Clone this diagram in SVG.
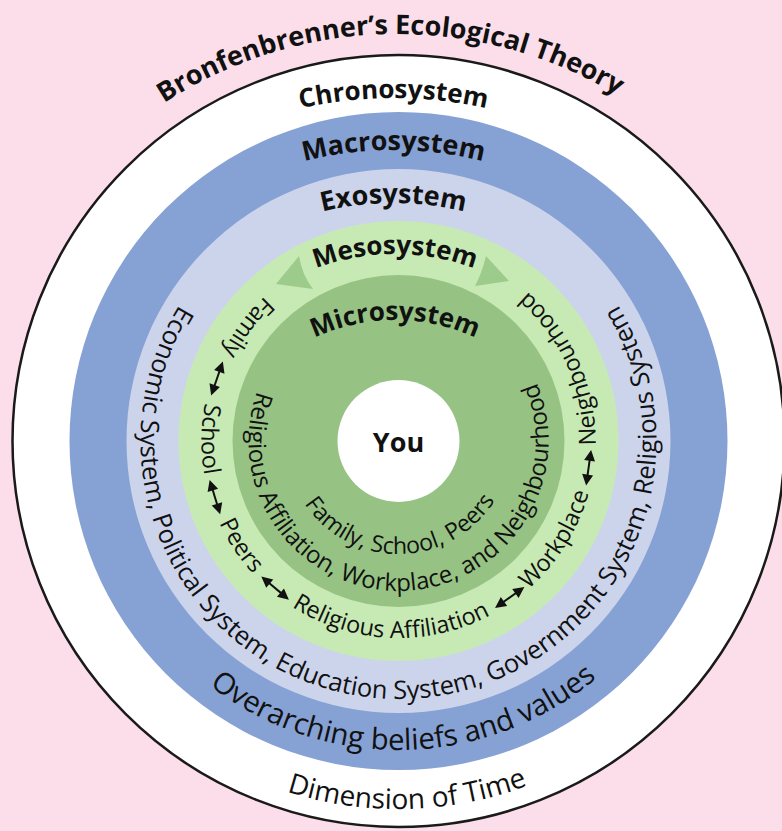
<svg xmlns="http://www.w3.org/2000/svg" width="782" height="831" viewBox="0 0 782 831">
<style>
.t{font-family:"Open Sans","Noto Sans",sans-serif;fill:#111;}
.b{font-weight:700;}
.r{font-weight:400;}
</style>
<defs>
<path id="pTitle" d="M -30,461 A 427 427 0 0 1 824,461"/>
<path id="pChrono" d="M -26.5,518 A 420 420 0 0 1 813.5,518"/>
<path id="pMacro" d="M 33.5,510 A 360 360 0 0 1 753.5,510"/>
<path id="pExo" d="M 93.5,503 A 300 300 0 0 1 693.5,503"/>
<path id="pMeso" d="M 171,478 A 224 224 0 0 1 619,478"/>
<path id="pMicro" d="M 205,510 A 190 190 0 0 1 585,510"/>
<path id="pTime" d="M 30.5,441 A 368 368 0 0 0 766.5,441"/>
<path id="pValues" d="M 89.5,441 A 309 309 0 0 0 707.5,441"/>
<path id="pExoRing" d="M 398.5,183 A 258 258 0 1 0 398.5,699 A 258 258 0 1 0 398.5,183"/>
<path id="pMesoRing" d="M 398.5,244 A 197 197 0 1 0 398.5,638 A 197 197 0 1 0 398.5,244"/>
<path id="pMicroRing" d="M 398.5,291 A 150 150 0 1 0 398.5,591 A 150 150 0 1 0 398.5,291"/>
<path id="pInner" d="M 398.5,328 A 113 113 0 1 0 398.5,554 A 113 113 0 1 0 398.5,328"/>
<g id="dbl"><line x1="-9" y1="0" x2="9" y2="0" stroke="#111" stroke-width="2"/><path d="M18,0 L7,-5.5 L7,5.5 Z M-18,0 L-7,-5.5 L-7,5.5 Z" fill="#111"/></g>
</defs>
<rect width="782" height="831" fill="#FBDEEA"/>
<text class="t b" font-size="27"><textPath href="#pTitle" startOffset="49.45%" text-anchor="middle">Bronfenbrenner’s Ecological Theory</textPath></text>
<g id="chronosystem">
<circle cx="398.5" cy="441" r="386" fill="#fff" stroke="#1a1a1a" stroke-width="2.5"/>
<text class="t b" font-size="26"><textPath href="#pChrono" startOffset="50%" text-anchor="middle">Chronosystem</textPath></text>
<text class="t r" font-size="28"><textPath href="#pTime" startOffset="50.8%" text-anchor="middle">Dimension of Time</textPath></text>
</g>
<g id="macrosystem">
<circle cx="398.5" cy="441" r="329" fill="#86A1D4"/>
<text class="t b" font-size="27"><textPath href="#pMacro" startOffset="50%" text-anchor="middle">Macrosystem</textPath></text>
<text class="t r" font-size="29.3"><textPath href="#pValues" startOffset="50.6%" text-anchor="middle">Overarching beliefs and values</textPath></text>
</g>
<g id="exosystem">
<circle cx="398.5" cy="441" r="272" fill="#CCD4EC"/>
<text class="t b" font-size="27"><textPath href="#pExo" startOffset="50%" text-anchor="middle">Exosystem</textPath></text>
<text class="t r" font-size="25.5"><textPath href="#pExoRing" startOffset="50%" text-anchor="middle">Economic System, Political System, Education System, Government System, Religious System</textPath></text>
</g>
<g id="mesosystem">
<circle cx="398.5" cy="441" r="220" fill="#C7EAB4"/>
<path d="M299,256 Q302,275 313,289 L276,284 Z" fill="#9DCB8B"/>
<path d="M486,256 Q482,273 475,286 L509,281 Z" fill="#9DCB8B"/>
<text class="t b" font-size="26"><textPath href="#pMeso" startOffset="50%" text-anchor="middle">Mesosystem</textPath></text>
<g class="t r" font-size="23.5">
<text><textPath href="#pMesoRing" startOffset="14.72%" text-anchor="middle">Family</textPath></text>
<text><textPath href="#pMesoRing" startOffset="24.86%" text-anchor="middle">School</textPath></text>
<text><textPath href="#pMesoRing" startOffset="34.31%" text-anchor="middle">Peers</textPath></text>
<text><textPath href="#pMesoRing" startOffset="49.31%" text-anchor="middle">Religious Affiliation</textPath></text>
<text><textPath href="#pMesoRing" startOffset="66.11%" text-anchor="middle">Workplace</textPath></text>
<text><textPath href="#pMesoRing" startOffset="81.67%" text-anchor="middle">Neighbourhood</textPath></text>
</g>
</g>
<g id="microsystem">
<circle cx="398.5" cy="441" r="166" fill="#96C383"/>
<text class="t b" font-size="26"><textPath href="#pMicro" startOffset="50%" text-anchor="middle">Microsystem</textPath></text>
<text class="t r" font-size="24"><textPath href="#pMicroRing" startOffset="50.49%" text-anchor="middle">Religious Affiliation, Workplace, and Neighbourhood</textPath></text>
<text class="t r" font-size="23.2"><textPath href="#pInner" startOffset="50.28%" text-anchor="middle">Family, School, Peers</textPath></text>
</g>
<g id="you">
<circle cx="398.5" cy="441" r="61" fill="#fff"/>
<text class="t b" font-size="27" x="398.5" y="452" text-anchor="middle">You</text>
</g>
<g id="connectors">
<use href="#dbl" transform="translate(217,378.5) rotate(-71)"/>
<use href="#dbl" transform="translate(214.9,497.1) rotate(73)"/>
<use href="#dbl" transform="translate(275.1,588.1) rotate(40)"/>
<use href="#dbl" transform="translate(509.7,597.5) rotate(-35.4)"/>
<use href="#dbl" transform="translate(588.6,467.7) rotate(-82)"/>
</g>
</svg>
